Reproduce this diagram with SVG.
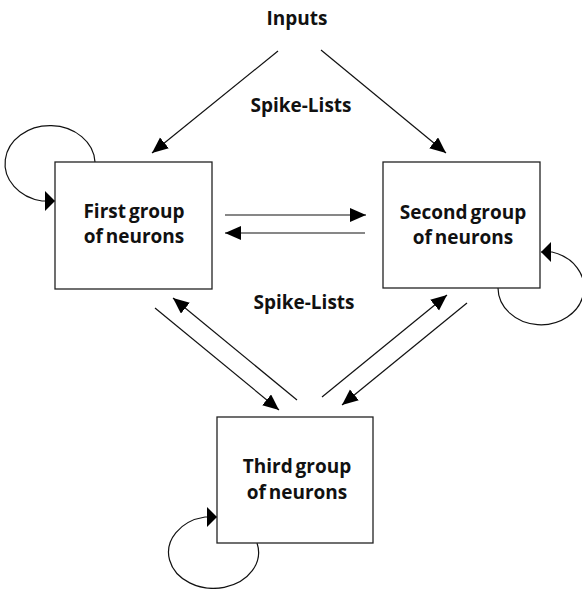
<svg xmlns="http://www.w3.org/2000/svg" width="582" height="589" viewBox="0 0 582 589">
<style>
.box{fill:#fff;stroke:#222;stroke-width:1.3}
.t{font-family:"Open Sans","Liberation Sans",sans-serif;font-weight:bold;font-size:19px;fill:#111;text-anchor:middle;word-spacing:-2px}
.lab{font-family:"Open Sans","Liberation Sans",sans-serif;font-weight:bold;font-size:19px;fill:#111;text-anchor:middle}
.c{fill:none;stroke:#111;stroke-width:1.2}
.a{marker-end:url(#big)}
.l{marker-end:url(#loop)}
</style>
<defs>
<marker id="big" markerUnits="userSpaceOnUse" markerWidth="20" markerHeight="16" refX="16" refY="7" orient="auto">
<path d="M0 0 L16 7 L0 14 z" fill="#000"/>
</marker>
<marker id="loop" markerUnits="userSpaceOnUse" markerWidth="12" markerHeight="22" refX="10" refY="10" orient="auto">
<path d="M0 0 L10 10 L0 20 z" fill="#000"/>
</marker>
</defs>
<rect width="582" height="589" fill="#fff"/>
<g id="labels">
<text class="lab" x="297" y="25">Inputs</text>
<text class="lab" x="301" y="112">Spike-Lists</text>
<text class="lab" x="304" y="309">Spike-Lists</text>
</g>
<g id="connectors">
<path class="c a" d="M278 51 L152 153"/>
<path class="c a" d="M321 50 L446 153"/>
<path class="c a" d="M225 215 L366 215"/>
<path class="c a" d="M365 233 L225 233"/>
<path class="c a" d="M155 308 L279 410"/>
<path class="c a" d="M297 400 L173 298"/>
<path class="c a" d="M322 397 L447 295"/>
<path class="c a" d="M467 303 L342 405"/>
<path class="c l" d="M95 162 A45 38 0 1 0 42 201 L55 201"/>
<path class="c l" d="M498 288 A43 37 0 1 0 552 252 L541 252"/>
<path class="c l" d="M257 543 A45 36 0 1 1 205 517 L217 517"/>
</g>
<g id="first">
<rect class="box" x="55" y="162" width="157" height="127"/>
<text class="t" x="134" y="218">First group</text>
<text class="t" x="134" y="243">of neurons</text>
</g>
<g id="second">
<rect class="box" x="383" y="162" width="157" height="126"/>
<text class="t" x="463" y="219">Second group</text>
<text class="t" x="463" y="244">of neurons</text>
</g>
<g id="third">
<rect class="box" x="217" y="417" width="156" height="126"/>
<text class="t" x="297" y="473">Third group</text>
<text class="t" x="297" y="499">of neurons</text>
</g>
</svg>
